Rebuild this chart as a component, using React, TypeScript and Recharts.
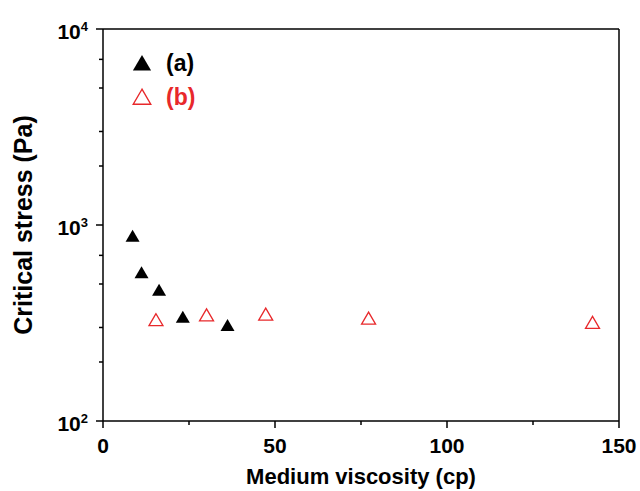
import React from "react";
import {
  ScatterChart,
  Scatter,
  XAxis,
  YAxis,
  ReferenceLine,
} from "recharts";

// series (a): filled black triangles
const viscosityA = [8.6, 11.2, 16.3, 23.2, 36.2];
const stressA = [871, 567, 462, 336, 305];

// series (b): hollow red triangles
const viscosityB = [15.4, 30.1, 47.3, 77.2, 142.3];
const stressB = [325, 344, 347, 331, 315];

const seriesNames = ["(a)", "(b)"];
const xTicks = [0, 25, 50, 75, 100, 125, 150];
const xLabelTicks = [0, 50, 100, 150];
const yTicks = [
  100, 200, 300, 400, 500, 600, 700, 800, 900,
  1000, 2000, 3000, 4000, 5000, 6000, 7000, 8000, 9000, 10000,
];
const yMajor = [100, 1000, 10000];

const RED = "#e8282b";
const FONT = "'Liberation Sans', Arial, sans-serif";

const dataA = viscosityA.map((x, i) => ({ x, y: stressA[i] }));
const dataB = viscosityB.map((x, i) => ({ x, y: stressB[i] }));

function tri(cx: number, cy: number, s = 1) {
  return `${cx},${cy - 7 * s} ${cx - 7 * s},${cy + 5 * s} ${cx + 7 * s},${cy + 5 * s}`;
}

const FilledTri = (props: any) => (
  <polygon points={tri(props.cx, props.cy)} fill="#000" />
);
const HollowTri = (props: any) => (
  <polygon points={tri(props.cx, props.cy)} fill="none" stroke={RED} strokeWidth={1.3} />
);

function XTick({ x, y, payload }: any) {
  const major = xLabelTicks.includes(payload.value);
  return (
    <g>
      <line x1={x} x2={x} y1={y} y2={y + (major ? 7 : 4)} stroke="#000" strokeWidth={1.5} />
      {major && (
        <text x={x} y={y + 32} textAnchor="middle" fontFamily={FONT} fontWeight="bold" fontSize={21} fill="#000">
          {payload.value}
        </text>
      )}
    </g>
  );
}

function YTick({ x, y, payload }: any) {
  const v = payload.value;
  const major = yMajor.includes(v);
  const exp = Math.round(Math.log10(v));
  return (
    <g>
      <line x1={x - (major ? 7 : 4)} x2={x} y1={y} y2={y} stroke="#000" strokeWidth={1.5} />
      {major && (
        <text x={x - 15} y={y + 10} textAnchor="end" fontFamily={FONT} fontWeight="bold" fontSize={21} fill="#000">
          10
          <tspan dy={-8} fontSize={13}>{exp}</tspan>
        </text>
      )}
    </g>
  );
}

function LegendBox() {
  return (
    <svg width={90} height={70} style={{ position: "absolute", left: 130, top: 50 }}>
      <polygon points={tri(12, 14, 1.3)} fill="#000" />
      <text x={36} y={21} fontFamily={FONT} fontWeight="bold" fontSize={23} fill="#000">{seriesNames[0]}</text>
      <polygon points={tri(12, 48, 1.25)} fill="none" stroke={RED} strokeWidth={1.4} />
      <text x={36} y={55} fontFamily={FONT} fontWeight="bold" fontSize={23} fill={RED}>{seriesNames[1]}</text>
    </svg>
  );
}

export default function App() {
  return (
    <div style={{ position: "absolute", left: 0, top: 0, width: 640, height: 491, background: "#fff" }}>
      <ScatterChart width={640} height={491} margin={{ top: 29, right: 21, bottom: 0, left: 0 }}>
        <XAxis
          type="number"
          dataKey="x"
          domain={[0, 150]}
          ticks={xTicks}
          tick={<XTick />}
          tickLine={false}
          tickSize={0}
          tickMargin={0}
          height={70}
          axisLine={{ stroke: "#000", strokeWidth: 1.5 }}
          label={{
            content: (p: any) => {
              const vb = p.viewBox;
              return (
                <text x={vb.x + vb.width / 2} y={484} textAnchor="middle" fontFamily={FONT} fontWeight="bold" fontSize={22} fill="#000">
                  Medium viscosity (cp)
                </text>
              );
            },
          }}
        />
        <YAxis
          type="number"
          dataKey="y"
          scale="log"
          domain={[100, 10000]}
          ticks={yTicks}
          tick={<YTick />}
          tickLine={false}
          tickSize={0}
          tickMargin={0}
          width={103}
          allowDataOverflow
          axisLine={{ stroke: "#000", strokeWidth: 1.5 }}
          label={{
            content: (p: any) => {
              const vb = p.viewBox;
              return (
                <text
                  transform={`translate(32, ${vb.y + vb.height / 2}) rotate(-90)`}
                  textAnchor="middle"
                  fontFamily={FONT}
                  fontWeight="bold"
                  fontSize={25}
                  fill="#000"
                >
                  Critical stress (Pa)
                </text>
              );
            },
          }}
        />
        <ReferenceLine y={10000} stroke="#000" strokeWidth={1.5} />
        <ReferenceLine x={150} stroke="#000" strokeWidth={1.5} />
        <Scatter name={seriesNames[0]} data={dataA} shape={<FilledTri />} isAnimationActive={false} />
        <Scatter name={seriesNames[1]} data={dataB} shape={<HollowTri />} isAnimationActive={false} />
      </ScatterChart>
      <LegendBox />
    </div>
  );
}
